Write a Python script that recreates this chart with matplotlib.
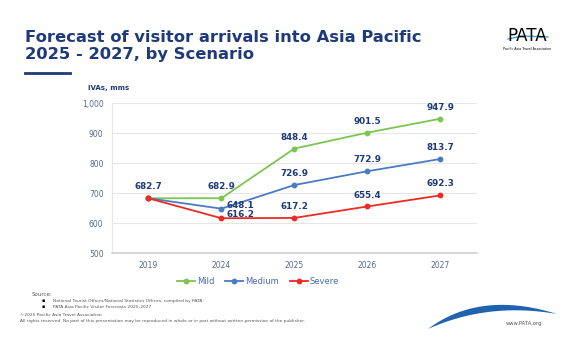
import matplotlib.pyplot as plt
import numpy as np
from matplotlib.patches import Polygon

years = ['2019', '2024', '2025', '2026', '2027']
mild = [682.7, 682.9, 848.4, 901.5, 947.9]
medium = [682.7, 648.1, 726.9, 772.9, 813.7]
severe = [682.7, 616.2, 617.2, 655.4, 692.3]
series_names = ['Mild', 'Medium', 'Severe']
yticks = [500, 600, 700, 800, 900, 1000]

navy = '#1e3a78'
green = '#7cc552'
blue = '#4a7bc4'
red = '#ee2a24'

fig = plt.figure(figsize=(5.8, 3.37), dpi=100)
ax = fig.add_axes([0.193, 0.249, 0.629, 0.445])

x = np.arange(len(years))
for vals, col, name in zip([mild, medium, severe], [green, blue, red], series_names):
    ax.plot(x, vals, color=col, lw=1.3, marker='o', ms=3.2, label=name, zorder=3)

lab_kw = dict(color=navy, fontsize=6.3, fontweight='bold', ha='center')
ax.annotate(f'{mild[0]:.1f}', (x[0], mild[0]), xytext=(0, 5), textcoords='offset points', va='bottom', **lab_kw)
for i in range(1, 5):
    ax.annotate(f'{mild[i]:.1f}', (x[i], mild[i]), xytext=(0, 5), textcoords='offset points', va='bottom', **lab_kw)
    if i == 1:
        ax.annotate(f'{medium[i]:.1f}', (x[i], medium[i]), xytext=(4, 2), textcoords='offset points',
                    va='center', **{**lab_kw, 'ha': 'left'})
        ax.annotate(f'{severe[i]:.1f}', (x[i], severe[i]), xytext=(4, 3), textcoords='offset points',
                    va='center', **{**lab_kw, 'ha': 'left'})
    else:
        ax.annotate(f'{medium[i]:.1f}', (x[i], medium[i]), xytext=(0, 5), textcoords='offset points', va='bottom', **lab_kw)
        ax.annotate(f'{severe[i]:.1f}', (x[i], severe[i]), xytext=(0, 5), textcoords='offset points', va='bottom', **lab_kw)

ax.set_xlim(-0.5, 4.5)
ax.set_ylim(500, 1000)
ax.set_xticks(x)
ax.set_xticklabels(years)
ax.set_yticks(yticks)
ax.set_yticklabels([f'{v:,}' for v in yticks])
ax.tick_params(length=0, labelsize=5.5, labelcolor='#5a6890', pad=6)
ax.grid(axis='y', color='#e6e6e6', lw=0.8)
ax.set_axisbelow(True)
for s in ['top', 'right']:
    ax.spines[s].set_visible(False)
ax.spines['left'].set_color('#e6e6e6')
ax.spines['bottom'].set_color('#d0d0d0')
ax.spines['bottom'].set_linewidth(1.2)

leg = ax.legend(loc='upper center', bbox_to_anchor=(0.40, -0.11), ncol=3, frameon=False,
                fontsize=6, handlelength=2.2, columnspacing=1.3, handletextpad=0.2)
for t in leg.get_texts():
    t.set_color('#4a6aa8')

# title and header
fig.text(0.043, 0.91, 'Forecast of visitor arrivals into Asia Pacific\n2025 - 2027, by Scenario',
         color=navy, fontsize=11.8, fontweight='bold', va='top', linespacing=1.1)
fig.add_artist(plt.Line2D([25 / 580, 70 / 580], [1 - 73 / 337] * 2, color=navy, lw=2))
fig.text(88 / 580, 1 - 88 / 337, 'IVAs, mms', color=navy, fontsize=5, fontweight='bold', va='center')

# logo
fig.text(527 / 580, 1 - 36 / 337, 'PATA', color='black', fontsize=12, ha='center', va='center')
fig.add_artist(plt.Line2D([508 / 580, 522 / 580, 548 / 580], [1 - 39 / 337, 1 - 36 / 337, 1 - 37 / 337],
                          color='#39a9dc', lw=1))
fig.text(527 / 580, 1 - 49 / 337, 'Pacific Asia Travel Association', color='black', fontsize=2.3,
         ha='center', va='center')

# footer
grey = '#555555'
fig.text(32 / 580, 1 - 295 / 337, 'Source:', fontsize=4, color=grey, va='center')
fig.text(42 / 580, 1 - 301 / 337, '\u25aa', fontsize=3.5, color='black', va='center')
fig.text(42 / 580, 1 - 307 / 337, '\u25aa', fontsize=3.5, color='black', va='center')
fig.text(53 / 580, 1 - 301 / 337, 'National Tourist Offices/National Statistics Offices; compiled by PATA',
         fontsize=3.2, color=grey, va='center')
fig.text(53 / 580, 1 - 307 / 337, 'PATA Asia Pacific Visitor Forecasts 2025-2027',
         fontsize=3.2, color=grey, va='center')
fig.text(20 / 580, 1 - 315 / 337, '\u00a92025 Pacific Asia Travel Association',
         fontsize=3.2, color=grey, va='center')
fig.text(20 / 580, 1 - 321 / 337,
         'All rights reserved. No part of this presentation may be reproduced in whole or in part without written permission of the publisher.',
         fontsize=3.2, color=grey, va='center')

# swoosh
t = np.linspace(0, 1, 40)
p0, p1, p2 = np.array([428, 329]), np.array([480, 290]), np.array([557, 314])
upper = np.outer((1 - t) ** 2, p0) + np.outer(2 * t * (1 - t), p1) + np.outer(t ** 2, p2)
q1 = np.array([488, 302])
lower = np.outer((1 - t) ** 2, p0) + np.outer(2 * t * (1 - t), q1) + np.outer(t ** 2, p2)
pts = np.vstack([upper, lower[::-1]])
pts = np.column_stack([pts[:, 0] / 580, 1 - pts[:, 1] / 337])
fig.add_artist(Polygon(pts, closed=True, facecolor='#1f63b0', edgecolor='none', transform=fig.transFigure))
fig.text(524 / 580, 1 - 323 / 337, 'www.PATA.org', fontsize=3.8, color=grey, ha='center', va='center')

fig.savefig('out.png', dpi=100)
